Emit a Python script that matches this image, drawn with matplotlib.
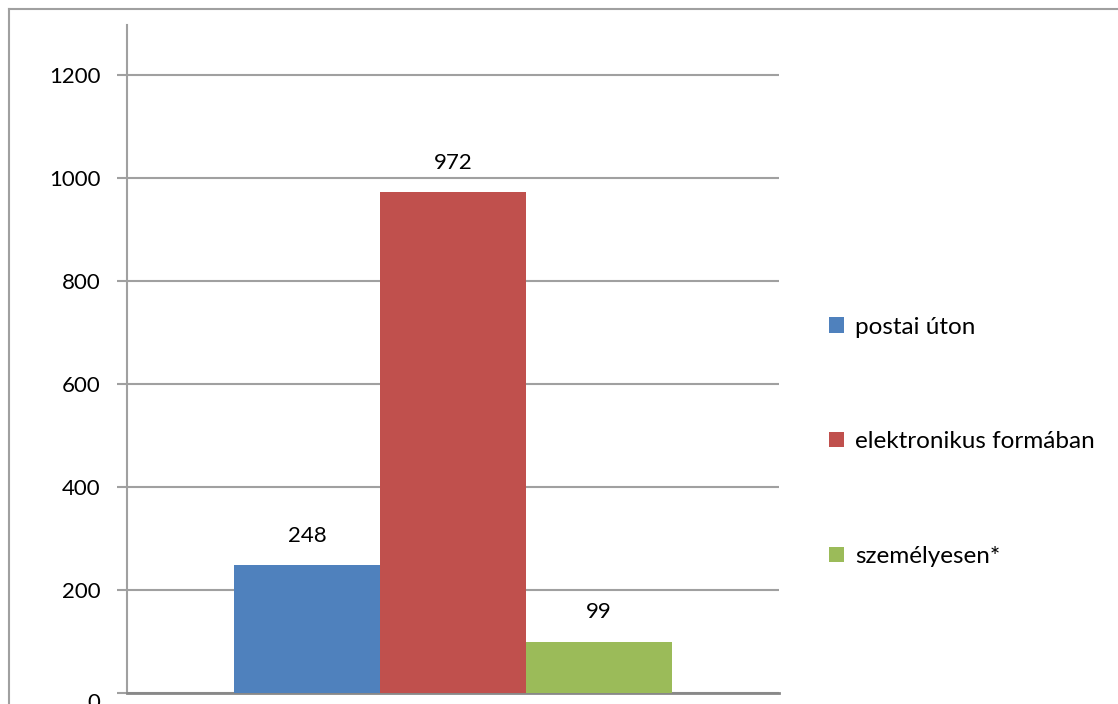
import matplotlib.pyplot as plt
from matplotlib.lines import Line2D

# adatok
series = ['postai úton', 'elektronikus formában', 'személyesen*']
values = [248, 972, 99]
colors = ['#4F81BD', '#C0504D', '#9BBB59']
yticks = [0, 200, 400, 600, 800, 1000, 1200]

plt.rcParams['font.family'] = ['Lato', 'DejaVu Sans']

W, H = 1118, 704
fig = plt.figure(figsize=(W / 100, H / 100), dpi=100)
ax = fig.add_axes([127 / W, 11 / H, (779 - 127) / W, (693 - 25) / H])

grid_c = '#A0A0A0'
fs = 16
xs = [-1, 0, 1]
for x, v, c, name in zip(xs, values, colors, series):
    ax.bar(x, v, width=1.0, color=c, label=name, zorder=3)
    ax.text(x, v + 38, str(v), ha='center', va='bottom', fontsize=fs, color='#000000')

ax.set_xlim(-2.233, 2.233)
ax.set_ylim(0, 1297)
ax.set_yticks(yticks)
ax.set_xticks([])
ax.yaxis.grid(True, color=grid_c, linewidth=1.5, zorder=0)
for s in ['top', 'right']:
    ax.spines[s].set_visible(False)
ax.spines['left'].set_color(grid_c)
ax.spines['left'].set_linewidth(1.5)
ax.spines['bottom'].set_color('#888888')
ax.spines['bottom'].set_linewidth(2)
ax.tick_params(axis='y', length=7, width=1.5, color=grid_c, pad=12, labelsize=fs)
ax.get_yticklabels()[0].set_verticalalignment('top')

ax.legend(loc='center left', bbox_to_anchor=(1.077, 0.376), frameon=False,
          fontsize=17.5, handlelength=0.6, handleheight=0.6, handletextpad=0.45,
          labelspacing=3.85, borderpad=0, borderaxespad=0)

# keret
fig.add_artist(Line2D([9 / W, 9 / W], [0, 1 - 9 / H], color=grid_c, linewidth=1.5))
fig.add_artist(Line2D([9 / W, 1], [1 - 9 / H, 1 - 9 / H], color=grid_c, linewidth=1.5))

fig.savefig('out.png', dpi=100)
